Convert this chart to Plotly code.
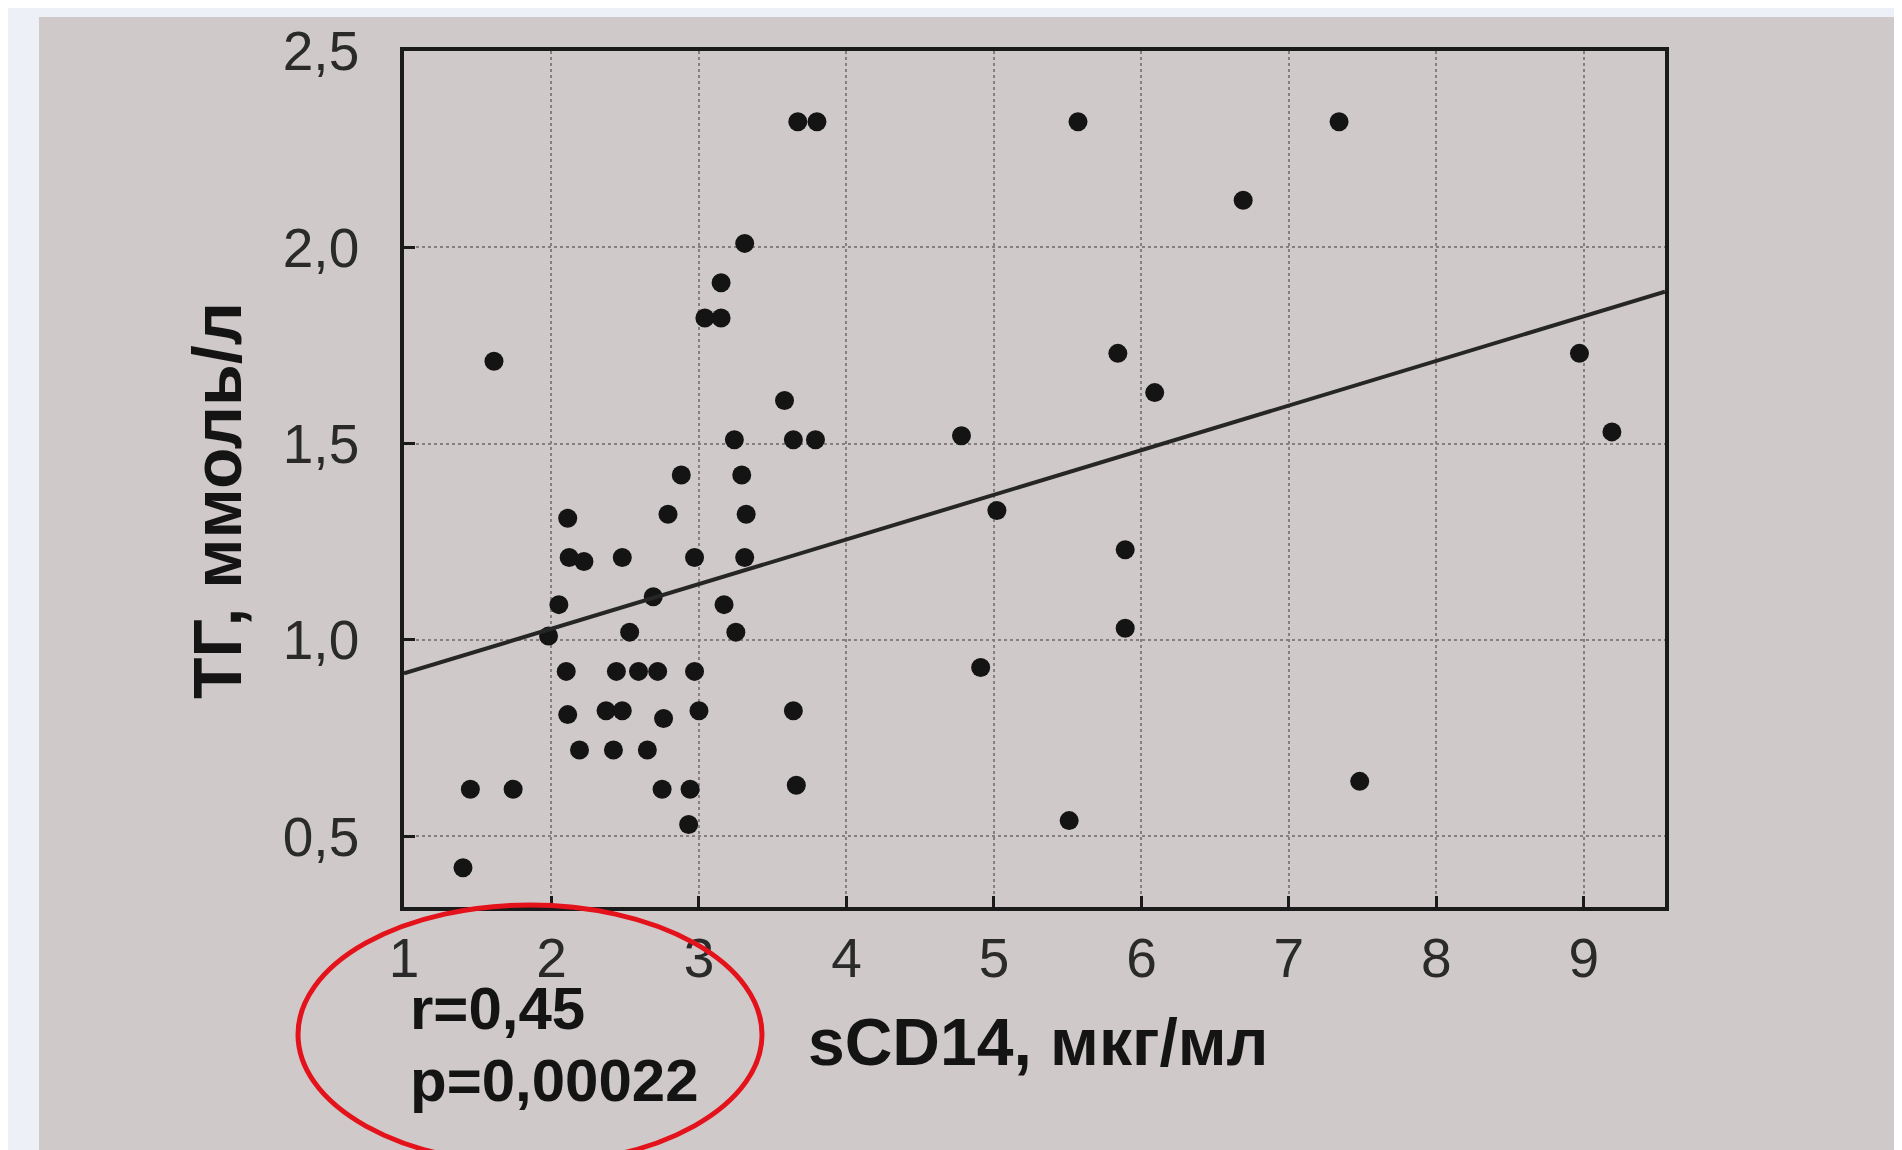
import plotly.graph_objects as go

# ---- data ----
sCD14 = [1.40, 1.45, 1.74, 1.61, 1.98, 2.05, 2.11, 2.12, 2.22, 2.48,
         2.88, 2.79, 2.97, 3.31, 3.15, 3.04, 3.15, 3.58, 3.24, 3.64,
         3.79, 3.29, 3.32, 3.31, 2.69, 3.17, 2.53, 3.25, 2.10, 2.44,
         2.59, 2.72, 2.97, 2.11, 2.37, 2.48, 2.76, 3.00, 3.64, 2.19,
         2.42, 2.65, 2.75, 2.94, 3.66, 2.93, 4.78, 4.91, 5.02, 5.57,
         5.51, 5.84, 5.89, 5.89, 6.09, 6.69, 7.34, 7.48, 8.97, 9.19,
         3.67, 3.80]
TG = [0.42, 0.62, 0.62, 1.71, 1.01, 1.09, 1.31, 1.21, 1.20, 1.21,
      1.42, 1.32, 1.21, 2.01, 1.91, 1.82, 1.82, 1.61, 1.51, 1.51,
      1.51, 1.42, 1.32, 1.21, 1.11, 1.09, 1.02, 1.02, 0.92, 0.92,
      0.92, 0.92, 0.92, 0.81, 0.82, 0.82, 0.80, 0.82, 0.82, 0.72,
      0.72, 0.72, 0.62, 0.62, 0.63, 0.53, 1.52, 0.93, 1.33, 2.32,
      0.54, 1.73, 1.23, 1.03, 1.63, 2.12, 2.32, 0.64, 1.73, 1.53,
      2.32, 2.32]
fit_x = [1.0, 9.55]
fit_y = [0.915, 1.887]

x_tickvals = [1, 2, 3, 4, 5, 6, 7, 8, 9]
x_ticktext = ["1", "2", "3", "4", "5", "6", "7", "8", "9"]
y_tickvals = [0.5, 1.0, 1.5, 2.0, 2.5]
y_ticktext = ["0,5", "1,0", "1,5", "2,0", "2,5"]

x_title = "sCD14, мкг/мл"
y_title = "ТГ, ммоль/л"
stat_lines = ["r=0,45", "p=0,00022"]

# ---- layout geometry (pixels) ----
W, H = 1902, 1150
L, R, T, B = 396, 245, 43, 251
PW, PH = W - L - R, H - T - B


def px(xp):
    return (xp - L) / PW


def py(yp):
    return (H - B - yp) / PH


PAPER = "#d0c9c9"
INK = "#141414"
FONT = "Liberation Sans, Arial, sans-serif"

fig = go.Figure()
fig.add_trace(go.Scatter(
    x=sCD14, y=TG, mode="markers",
    marker=dict(size=19, color=INK, line=dict(width=0)),
    showlegend=False, hoverinfo="x+y",
))
fig.add_trace(go.Scatter(
    x=fit_x, y=fit_y, mode="lines",
    line=dict(color="#262626", width=4),
    showlegend=False, hoverinfo="skip",
))

axis_common = dict(
    showline=True, linecolor="#1a1a1a", linewidth=3.5, mirror=True,
    ticks="inside", ticklen=11, tickwidth=2.5, tickcolor="#1a1a1a",
    showgrid=True, gridcolor="#858080", gridwidth=1.5, griddash="dot",
    zeroline=False,
    tickfont=dict(family=FONT, size=55, color="#2a2a2a"),
)

fig.update_xaxes(range=[1.0, 9.55], tickmode="array",
                 tickvals=x_tickvals, ticktext=x_ticktext,
                 ticklabelstandoff=0, **axis_common)
fig.update_yaxes(range=[0.32, 2.5], tickmode="array",
                 tickvals=y_tickvals, ticktext=y_ticktext,
                 ticklabelstandoff=30, **axis_common)

annotations = [
    dict(text=f"<b>{x_title}</b>", x=px(1030), y=py(1034),
         xref="paper", yref="paper", showarrow=False,
         xanchor="center", yanchor="middle",
         font=dict(family=FONT, size=66, color=INK)),
    dict(text=f"<b>{y_title}</b>", x=px(209), y=py(493),
         xref="paper", yref="paper", showarrow=False, textangle=-90,
         xanchor="center", yanchor="middle",
         font=dict(family=FONT, size=68, color=INK)),
    dict(text=f"<b>{stat_lines[0]}</b>", x=px(400), y=py(1000),
         xref="paper", yref="paper", showarrow=False,
         xanchor="left", yanchor="middle",
         font=dict(family=FONT, size=60, color=INK)),
    dict(text=f"<b>{stat_lines[1]}</b>", x=px(400), y=py(1072),
         xref="paper", yref="paper", showarrow=False,
         xanchor="left", yanchor="middle",
         font=dict(family=FONT, size=60, color=INK)),
]

shapes = [
    # photographed page
    dict(type="rect", xref="paper", yref="paper",
         x0=px(31), x1=px(1891), y0=py(1143), y1=py(9),
         fillcolor=PAPER, line=dict(width=0), layer="below"),
    # red highlight ellipse
    dict(type="circle", xref="paper", yref="paper",
         x0=px(290), x1=px(754), y0=py(1156), y1=py(897),
         line=dict(color="#e3121b", width=5), fillcolor="rgba(0,0,0,0)",
         layer="above"),
]

fig.update_layout(
    width=W, height=H,
    margin=dict(l=L, r=R, t=T, b=B, autoexpand=False),
    paper_bgcolor="#edf1f7",
    plot_bgcolor="rgba(0,0,0,0)",
    annotations=annotations,
    shapes=shapes,
    showlegend=False,
)

fig.write_html("out.html")
